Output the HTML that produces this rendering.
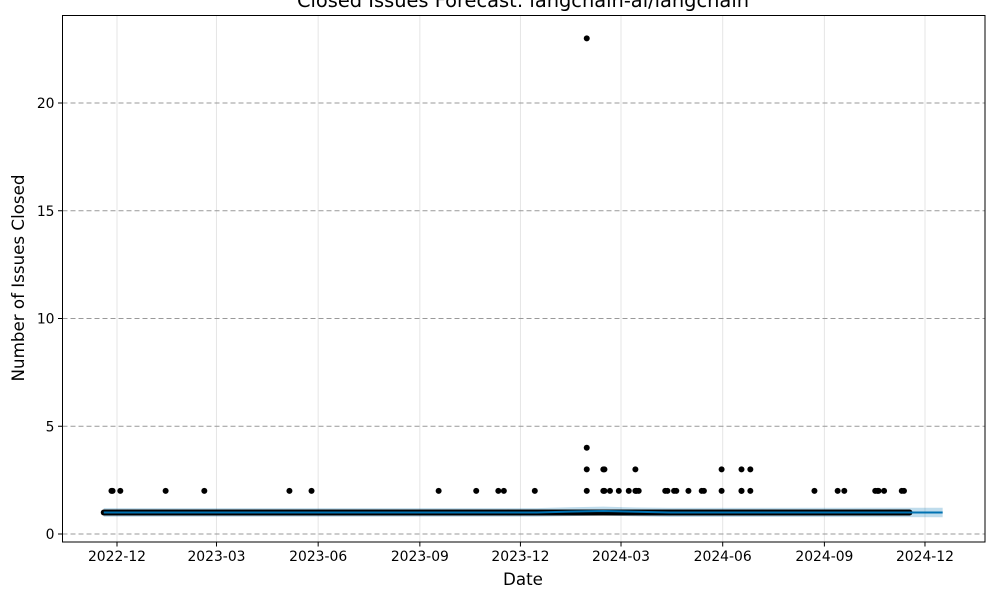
<!DOCTYPE html>
<html><head><meta charset="utf-8"><style>
html,body{margin:0;padding:0;background:#fff;}
svg{display:block;font-family:"DejaVu Sans","Liberation Sans",sans-serif;}
</style></head><body>
<svg id="chart" width="1000" height="600" viewBox="0 0 1000 600">
<g id="grid"></g><g id="band"></g><g id="dots"></g><g id="fline"></g><g id="axes"></g>
</svg>
<script>
const yTicks=[0,5,10,15,20];
const xTickLabels=["2022-12","2023-03","2023-06","2023-09","2023-12","2024-03","2024-06","2024-09","2024-12"];
const xTickDays=[0,90,182,274,365,456,548,640,731];
// observed range of daily data (days from 2022-12-01), baseline value
const obsStart=-12, obsEnd=717, baseValue=1;
// non-baseline observations: day offsets and values
const extraDays=[-5,-4,3,44,79,156,176,291,325,345,350,378,425,425,425,425,440,441,440,441,446,454,463,469,470,472,469,496,498,504,506,517,529,531,547,547,565,565,573,565,573,631,652,658,686,688,689,694,710,712];
const extraVals=[2,2,2,2,2,2,2,2,2,2,2,2,2,3,4,23,2,2,3,3,2,2,2,2,2,2,3,2,2,2,2,2,2,2,2,3,2,2,2,3,3,2,2,2,2,2,2,2,2,2];
// forecast knots
const fDays=[-12,380,410,440,470,500,747];
const fYhat=[1.0,1.0,1.04,1.07,1.03,1.0,1.0];
const fLower=[0.8,0.8,0.83,0.86,0.82,0.79,0.78];
const fUpper=[1.2,1.2,1.24,1.27,1.23,1.21,1.22];

const L=62.5,R=985,T=15.5,B=542;
const X=d=>117+d*1.1053;
const Y=v=>534-v*21.55;
const ns="http://www.w3.org/2000/svg";
function mk(tag,attrs,parent){const e=document.createElementNS(ns,tag);for(const k in attrs)e.setAttribute(k,attrs[k]);parent.appendChild(e);return e;}
const grid=document.getElementById('grid'),axes=document.getElementById('axes');
xTickDays.forEach((d,i)=>{
 const gl=mk('line',{x1:X(d),x2:X(d),y1:T,y2:B,stroke:'#e5e5e5','stroke-width':1},grid);
 
 
 mk('line',{x1:X(d),x2:X(d),y1:B,y2:B+4.5,stroke:'#000','stroke-width':1},axes);
 const t=mk('text',{x:X(d),y:B+19,'text-anchor':'middle','font-size':'13.9px',fill:'#000'},axes);
 t.textContent=xTickLabels[i];
 
 
});
yTicks.forEach(v=>{
 const gl=mk('line',{x1:L,x2:R,y1:Y(v),y2:Y(v),stroke:'#999','stroke-width':1,'stroke-dasharray':'5,3'},grid);
 
 
 mk('line',{x1:L-4.5,x2:L,y1:Y(v),y2:Y(v),stroke:'#000','stroke-width':1},axes);
 const t=mk('text',{x:L-8,y:Y(v)+5,'text-anchor':'end','font-size':'13.9px',fill:'#000'},axes);
 t.textContent=v;
 
 
});
// band
let p='';fDays.forEach((d,i)=>{p+=(i?'L':'M')+X(d)+','+Y(fUpper[i]);});
for(let i=fDays.length-1;i>=0;i--)p+='L'+X(fDays[i])+','+Y(fLower[i]);
const band=mk('path',{d:p+'Z',fill:'#0072b2','fill-opacity':0.25},document.getElementById('band'));


// dots
const dots=document.getElementById('dots');
for(let d=obsStart;d<=obsEnd;d++){
 const c=mk('circle',{cx:X(d),cy:Y(baseValue),r:3,fill:'#000'},dots);
 
 
}
extraDays.forEach((d,i)=>{
 const c=mk('circle',{cx:X(d),cy:Y(extraVals[i]),r:3,fill:'#000'},dots);
 
 
});
// forecast line
let lp='';fDays.forEach((d,i)=>{lp+=(i?'L':'M')+X(d)+','+Y(fYhat[i]);});
const fl=mk('path',{d:lp,fill:'none',stroke:'#0072b2','stroke-width':2},document.getElementById('fline'));


// frame
const fr=mk('rect',{x:L,y:T,width:R-L,height:B-T,fill:'none',stroke:'#000','stroke-width':1},axes);


const tt=mk('text',{x:523,y:7,'text-anchor':'middle','font-size':'19.4px',fill:'#000'},axes);
tt.textContent='Closed Issues Forecast: langchain-ai/langchain';


const xl=mk('text',{x:523,y:585,'text-anchor':'middle','font-size':'16.7px',fill:'#000'},axes);
xl.textContent='Date';


const yl=mk('text',{x:0,y:0,'text-anchor':'middle','font-size':'16.7px',fill:'#000',transform:'translate(24,278) rotate(-90)'},axes);
yl.textContent='Number of Issues Closed';


</script>
</body></html>
